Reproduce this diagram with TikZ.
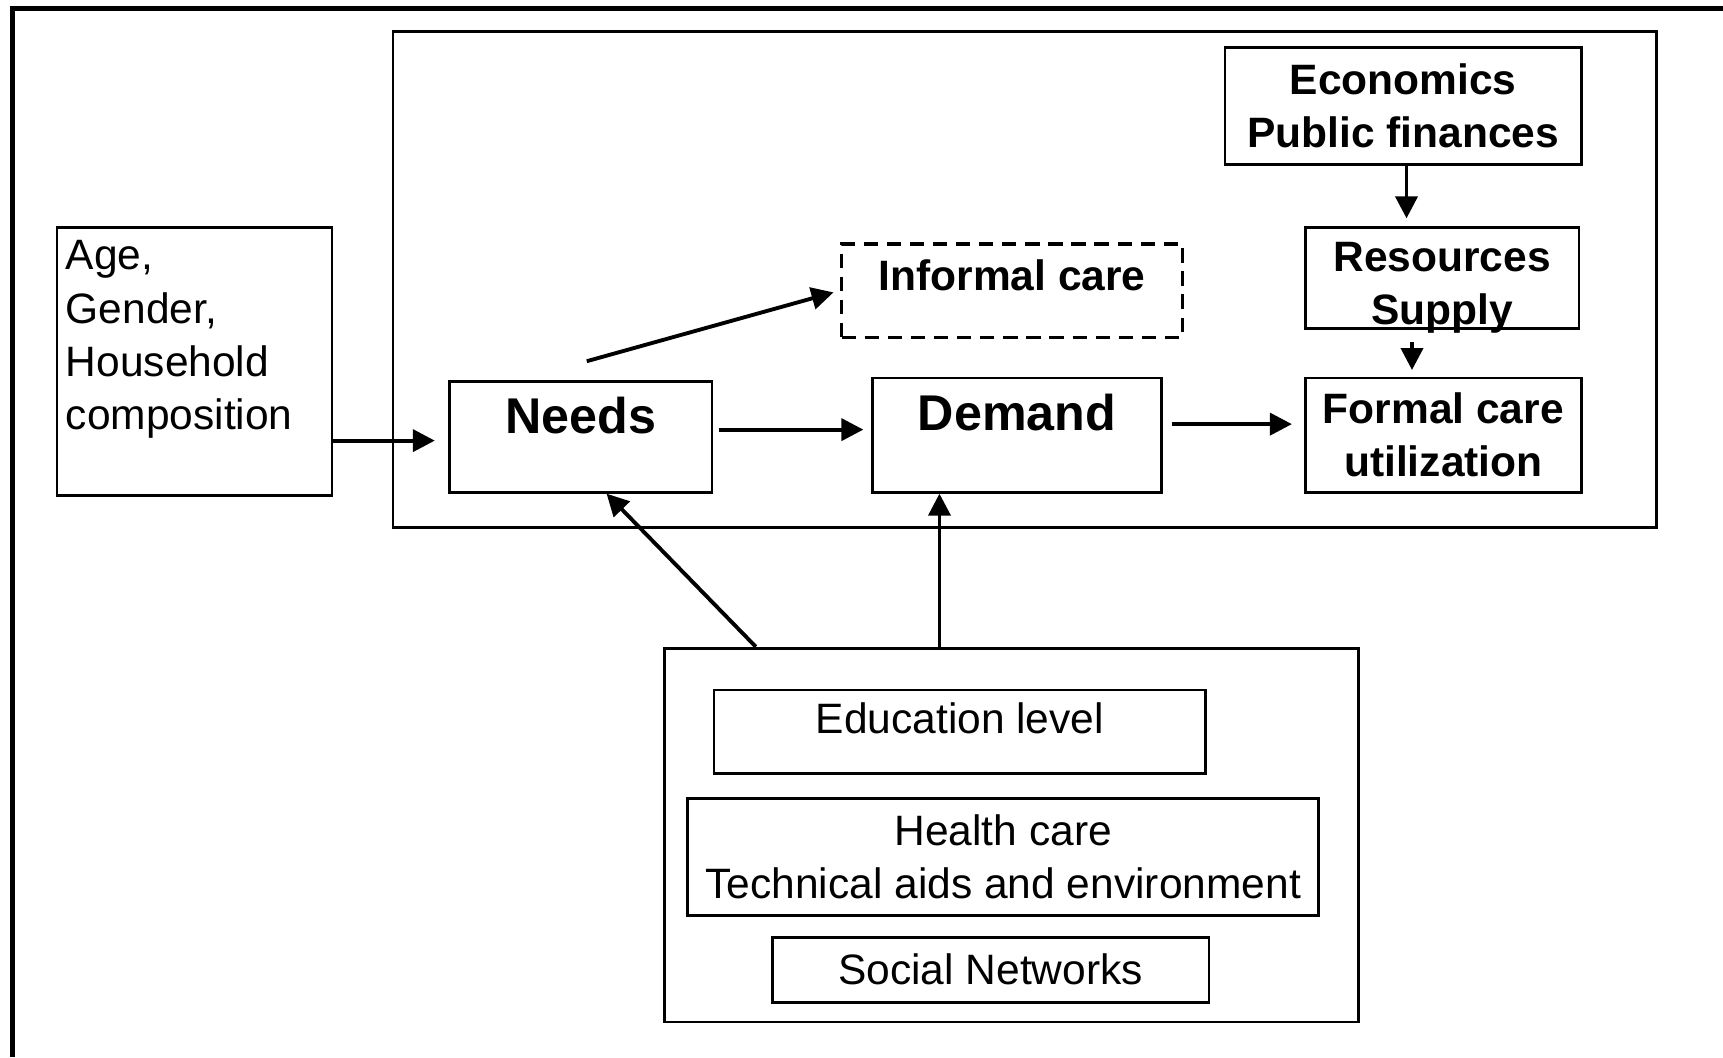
\documentclass[tikz,border=0pt]{standalone}
\usepackage{fontspec}
\setmainfont{Liberation Sans}
\usetikzlibrary{arrows.meta}

\begin{document}
\begin{tikzpicture}[x=0.01cm,y=-0.01cm,>={Triangle[length=0.2cm,width=0.2cm]},
		font=\fontsize{11pt}{13.8pt}\selectfont,
		box/.style={draw,line width=0.7pt,inner sep=0pt,align=center},
		frame/.style={draw,line width=0.7pt,inner sep=0pt},
		title/.style={font=\bfseries\fontsize{13pt}{15pt}\selectfont},
		head/.style={font=\bfseries\fontsize{11pt}{13.8pt}\selectfont},
		flow/.style={->,line width=1pt}]
		\useasboundingbox (0,0) rectangle (1568,962);
		\draw[line width=1.3pt] (11,962) -- (11,8) -- (1568,8);
		% frames
		\node[frame,minimum width=11.49cm,minimum height=4.51cm] (system) at (932.5,254.5) {};
		\node[frame,minimum width=6.31cm,minimum height=3.4cm] (factors) at (920.5,760) {};
		% boxes
		\node[box,minimum width=2.5cm,minimum height=2.44cm,inner xsep=0.08cm,text width=2.34cm,align=left,text depth=55pt] (age) at (177,329) {Age,\\Gender,\\Household\\composition};
		\node[box,title,minimum width=2.39cm,minimum height=1.01cm,text depth=11pt] (needs) at (528.5,397.5) {Needs};
		\node[box,title,minimum width=2.63cm,minimum height=1.04cm,text depth=12pt] (demand) at (925.5,396) {Demand};
		\node[box,head,dash pattern=on 0.13cm off 0.08cm,line width=0.9pt,minimum width=3.1cm,minimum height=0.85cm,text depth=8pt] (informal) at (921,264.5) {Informal care};
		\node[box,head,minimum width=3.24cm,minimum height=1.07cm] (economics) at (1277,96.5) {Economics\\Public finances};
		\node[box,head,minimum width=2.49cm,minimum height=0.92cm,text height=24.3pt,text depth=0pt] (resources) at (1312.5,253) {Resources\\Supply};
		\node[box,head,minimum width=2.51cm,minimum height=1.04cm] (formal) at (1313.5,396) {Formal care\\utilization};
		\node[box,minimum width=4.47cm,minimum height=0.76cm,text depth=7pt] (education) at (873.5,666) {Education level};
		\node[box,minimum width=5.74cm,minimum height=1.06cm] (health) at (913,780) {Health care\\Technical aids and environment};
		\node[box,minimum width=3.97cm,minimum height=0.59cm] (social) at (901.5,882.5) {Social Networks};
		% arrows
		\draw[flow,shorten >=0.12cm] ([yshift=-0.035cm]age.east |- needs.west) -- ([yshift=-0.035cm]needs.west);
		\draw[flow,shorten <=0.05cm,shorten >=0.07cm] ([yshift=0.05cm]demand.west -| needs.east) -- ([yshift=0.05cm]demand.west);
		\draw[flow,shorten <=0.08cm,shorten >=0.11cm] ([yshift=0.1cm]demand.east) -- ([yshift=0.1cm]formal.west);
		\draw[flow,shorten >=0.06cm] ([shift={(0.055cm,0.17cm)}]needs.north) -- (informal.west);
		\draw[flow,shorten >=0.07cm] ([xshift=0.03cm]economics.south) -- ([xshift=0.03cm]economics.south |- resources.north);
		\draw[flow,shorten <=0.11cm,shorten >=0.06cm] ([xshift=-0.275cm]resources.south) -- ([xshift=-0.275cm]resources.south |- formal.north);
		\draw[flow] ([xshift=-2.325cm]factors.north) -- ([xshift=0.235cm]needs.south);
		\draw[flow] ([xshift=-0.655cm]factors.north) -- ([xshift=-0.655cm]factors.north |- demand.south);
	\end{tikzpicture}
\end{document}
